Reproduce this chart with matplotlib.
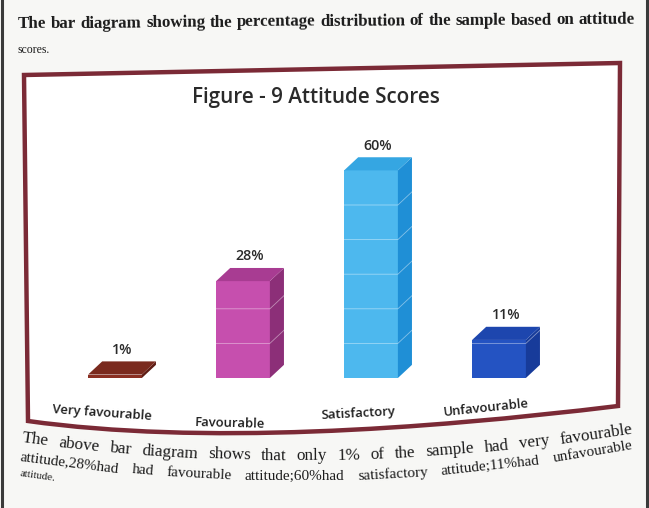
import numpy as np
import matplotlib.pyplot as plt
from matplotlib.patches import Polygon
from matplotlib.path import Path
from matplotlib.patches import PathPatch

# data
categories = ["Very favourable", "Favourable", "Satisfactory", "Unfavourable"]
percent = [1, 28, 60, 11]
front_colors = ["#8a2f22", "#c64fae", "#4db8ee", "#2453c2"]
side_colors = ["#5e1c14", "#8c2f78", "#1f8fd6", "#173b9a"]
top_colors = ["#7a2a1e", "#a83c92", "#35a6e2", "#1d46ae"]
label_rot = [-4, -1.5, 3, 6]
label_y = [-10.1, -13.0, -10.3, -8.8]

W, H = 649, 508
fig = plt.figure(figsize=(W / 100, H / 100), dpi=100)
fig.patch.set_facecolor("#f7f7f5")
renderer = fig.canvas.get_renderer()


def fx(px):
    return px / W


def fy(py):
    return 1 - py / H


def text_width(s, size, **kw):
    t = fig.text(0, 0, s, fontsize=size, **kw)
    wpx = t.get_window_extent(renderer=renderer).width
    t.remove()
    return wpx


def curve_text(s, xs, ys, size, **kw):
    # justified line of page text bent through three (x, y) pixel points, like the warped photo
    p = np.poly1d(np.polyfit(xs, ys, 2))
    dp = p.deriv()
    L = xs[-1] - xs[0]
    words = s.split()
    space = text_width("a b", size, **kw) - text_width("ab", size, **kw)
    full = sum(text_width(w, size, **kw) for w in words) + space * (len(words) - 1)
    if full > L:
        size = size * L / full
    widths = [text_width(w, size, **kw) for w in words]
    gap = (L - sum(widths)) / max(len(words) - 1, 1)
    pos = xs[0]
    for w, wd in zip(words, widths):
        c = pos + wd / 2
        ang = -np.degrees(np.arctan(dp(c)))
        fig.text(fx(c), fy(p(c)), w, fontsize=size, ha="center", va="center",
                 rotation=ang, rotation_mode="anchor", **kw)
        pos += wd + gap


serif = dict(family="Liberation Serif", color="#1b1b1b")

# page edges
for px in (1.5, 646.5):
    fig.add_artist(plt.Line2D([fx(px), fx(px)], [0, 1], transform=fig.transFigure,
                              color="#3a3a3a", lw=2.2))

# page text above the chart
curve_text("The bar diagram showing the percentage distribution of the sample based on attitude",
           [18, 300, 635], [24, 22, 20], 12.5, fontweight="bold", **serif)
fig.text(fx(18), fy(50), "scores.", fontsize=8.5, va="center", **serif)

# framed chart area (maroon border, skewed like the photo)
verts = [(24, 75), (620, 63), (618, 406), (420, 430), (200, 445), (28, 421), (24, 75)]
codes = [Path.MOVETO, Path.LINETO, Path.LINETO, Path.CURVE4, Path.CURVE4, Path.CURVE4, Path.CLOSEPOLY]
pts = [(fx(a), fy(b)) for a, b in verts]
fig.patches.append(PathPatch(Path(pts, codes), transform=fig.transFigure,
                             fc="white", ec="#7b2a36", lw=3.2, zorder=-1))

fig.text(fx(316), fy(97), "Figure - 9 Attitude Scores", family="Open Sans", fontweight="semibold",
         fontsize=14.9, color="#2a2a2a", ha="center", va="center")

# bar axes: baseline at y=378 px, 3.46 px per percent, 128 px between bars
left_px, right_px = 40, 625
base_px, top_px = 378, 140
ax = fig.add_axes([fx(left_px), fy(base_px), (right_px - left_px) / W, (base_px - top_px) / H])
ax.set_zorder(2)
ax.set_xlim((left_px - 115) / 128, (right_px - 115) / 128)
ax.set_ylim(0, (base_px - top_px) / 3.46)
ax.axis("off")

x = np.arange(len(categories))
w = 0.42
dx, dy = 0.11, 3.8

ax.axhline(-2.2, xmin=0.04, xmax=0.9, color="#f0e2e2", lw=3, zorder=0)

for i, v in enumerate(percent):
    ax.bar(x[i], v, width=w, color=front_colors[i], zorder=2)
    r = x[i] + w / 2
    l = x[i] - w / 2
    ax.add_patch(Polygon([(r, 0), (r + dx, dy), (r + dx, v + dy), (r, v)],
                         closed=True, fc=side_colors[i], ec="none", zorder=2))
    ax.add_patch(Polygon([(l, v), (l + dx, v + dy), (r + dx, v + dy), (r, v)],
                         closed=True, fc=top_colors[i], ec="none", zorder=2))
    # faint white gridlines showing through the bars
    for g in range(10, v, 10):
        ax.plot([l, r, r + dx], [g, g, g + dy], color="white", lw=0.6, alpha=0.45, zorder=3)
    ax.text(x[i] + dx / 2, v + dy + 1.3, "%d%%" % v, ha="center", va="bottom",
            family="Open Sans", fontweight="semibold", fontsize=10.3, color="#2a2a2a")
    ax.text(x[i] - 0.1, label_y[i], categories[i], ha="center", va="center", rotation=label_rot[i],
            family="Open Sans", fontweight="semibold", fontsize=9.4, color="#1e1e1e",
            rotation_mode="anchor", clip_on=False)

# page text below the chart
curve_text("The above bar diagram shows that only 1% of the sample had very favourable",
           [22, 150, 633], [438, 451, 429], 12.3, **serif)
curve_text("attitude,28%had had favourable attitude;60%had satisfactory attitude;11%had unfavourable",
           [20, 150, 633], [456, 471, 445], 11, **serif)
fig.text(fx(20), fy(474), "attitude.", fontsize=8, va="center", rotation=-8,
         rotation_mode="anchor", **serif)

fig.savefig("out.png", dpi=100, facecolor=fig.get_facecolor())
